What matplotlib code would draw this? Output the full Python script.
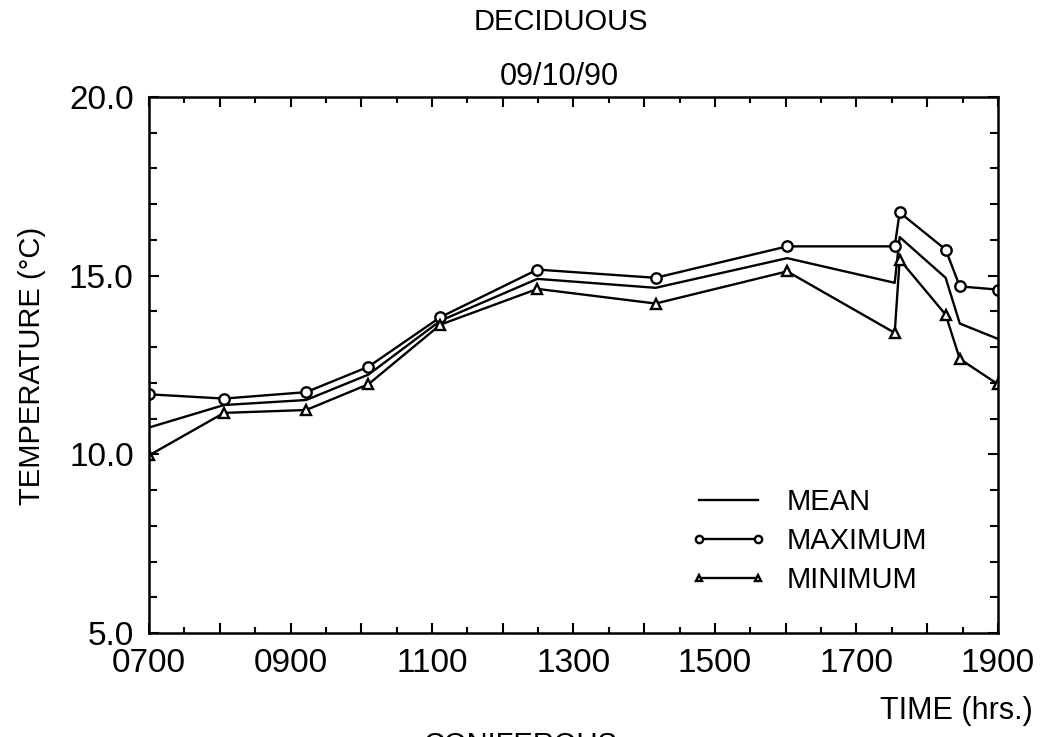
import numpy as np
import matplotlib
matplotlib.use("Agg")
import matplotlib.pyplot as plt
from matplotlib.ticker import MultipleLocator, FuncFormatter

plt.rcParams['font.family'] = ['Liberation Sans', 'DejaVu Sans']

# time of reading, decimal hours
hours = [7.0, 8.06, 9.22, 10.10, 11.12, 12.49, 14.16, 16.02, 17.54, 17.61, 18.26, 18.46, 19.0]
# temperatures (deg C)
t_mean = [10.75, 11.38, 11.52, 12.23, 13.74, 14.91, 14.66, 15.49, 14.80, 16.08, 14.94, 13.66, 13.23]
t_max = [11.68, 11.56, 11.74, 12.45, 13.84, 15.17, 14.94, 15.82, 15.82, 16.77, 15.73, 14.70, 14.61]
t_min = [9.97, 11.16, 11.24, 11.96, 13.63, 14.63, 14.22, 15.12, 13.40, 15.45, 13.91, 12.67, 11.96]

title1 = "DECIDUOUS"
title2 = "09/10/90"
xlab = "TIME (hrs.)"
ylab = "TEMPERATURE (\u00b0C)"

W, H = 1040, 737
fig = plt.figure(figsize=(W / 100, H / 100), dpi=100)
ax = fig.add_axes([149 / W, 1 - 633 / H, (998 - 149) / W, (633 - 97) / H])

lw = 1.7
ax.plot(hours, t_mean, color='black', lw=lw, label='MEAN')
ax.plot(hours, t_max, color='black', lw=lw, marker='o', ms=7.5,
        mfc='white', mew=1.7, label='MAXIMUM')
ax.plot(hours, t_min, color='black', lw=lw, marker='^', ms=7,
        mfc='white', mew=1.7, label='MINIMUM')

ax.set_xlim(7, 19)
ax.set_ylim(5, 20)

# ticks all round, pointing in
ax.xaxis.set_major_locator(MultipleLocator(1))
ax.xaxis.set_minor_locator(MultipleLocator(0.5))
ax.xaxis.set_major_formatter(FuncFormatter(
    lambda v, p: f"{int(round(v)):02d}00" if int(round(v)) % 2 == 1 else ""))
ax.yaxis.set_major_locator(MultipleLocator(5))
ax.yaxis.set_minor_locator(MultipleLocator(1))
ax.yaxis.set_major_formatter(FuncFormatter(lambda v, p: f"{v:.1f}"))

ax.tick_params(which='both', direction='in', top=True, right=True, width=1.5)
ax.tick_params(which='major', length=7, labelsize=24, pad=11)
ax.tick_params(which='minor', length=4)
ax.tick_params(axis='y', which='minor', length=6)
for s in ax.spines.values():
    s.set_linewidth(1.8)

fig.text(561 / W, 1 - 22 / H, title1, ha='center', va='center', fontsize=21)
fig.text(559 / W, 1 - 77 / H, title2, ha='center', va='center', fontsize=22)
fig.text(1033 / W, 1 - 711 / H, xlab, ha='right', va='center', fontsize=22)
fig.text(32 / W, 1 - 366 / H, ylab, ha='center', va='center', rotation=90, fontsize=21)
# next panel's title, cut by the page edge
fig.text(520 / W, 1 - 731 / H, "CONIFEROUS", ha='center', va='top', fontsize=21)

ax.legend(loc='upper left', bbox_to_anchor=(0.638, 0.27), frameon=False,
          fontsize=21, handlelength=2.6, handletextpad=0.7, labelspacing=0.37,
          borderpad=0, borderaxespad=0, markerscale=0.7, numpoints=2)

fig.savefig("out.png", dpi=100)
